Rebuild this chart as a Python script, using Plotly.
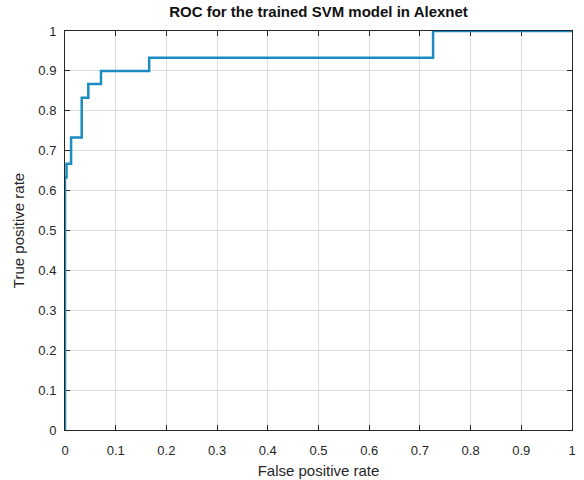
import plotly.graph_objects as go

fpr = [0.0, 0.0, 0.003, 0.003, 0.012, 0.012, 0.033, 0.033, 0.046, 0.046, 0.071, 0.071, 0.166, 0.166, 0.726, 0.726, 1.0]
tpr = [0.0, 0.633, 0.633, 0.667, 0.667, 0.733, 0.733, 0.833, 0.833, 0.867, 0.867, 0.9, 0.9, 0.933, 0.933, 1.0, 1.0]

title = "ROC for the trained SVM model in Alexnet"
xlabel = "False positive rate"
ylabel = "True positive rate"
ticks = [i / 10 for i in range(11)]
ticktext = ["0", "0.1", "0.2", "0.3", "0.4", "0.5", "0.6", "0.7", "0.8", "0.9", "1"]

FONT = "Liberation Sans, Arial"

fig = go.Figure()
fig.add_trace(go.Scatter(x=fpr, y=tpr, mode="lines", cliponaxis=False,
                         line=dict(color="#1a8cbf", width=2.5), showlegend=False))

axis_common = dict(
    range=[0, 1], tickvals=ticks, ticktext=ticktext,
    showgrid=True, gridcolor="#dddddd", gridwidth=1,
    showline=True, linecolor="#262626", linewidth=1, mirror="ticks",
    ticks="inside", ticklen=5, tickcolor="#262626",
    layer="below traces", automargin=False,
    zeroline=False, tickfont=dict(family=FONT, size=13, color="#262626"),
)

fig.update_layout(
    width=584, height=480,
    margin=dict(l=65, r=12, t=31, b=50),
    paper_bgcolor="white", plot_bgcolor="white",
    title=dict(text="<b>" + title + "</b>", x=0.5, xanchor="center", xref="paper",
               y=1, yref="container", yanchor="top", pad=dict(t=6),
               font=dict(family=FONT, size=15, color="#111")),
    xaxis=dict(axis_common, ticklabelstandoff=8,
               title=dict(text=xlabel, standoff=8,
                          font=dict(family=FONT, size=15, color="#262626"))),
    yaxis=dict(axis_common, ticklabelstandoff=5,
               title=dict(text=ylabel, standoff=10,
                          font=dict(family=FONT, size=15, color="#262626"))),
)

fig.write_html("out.html")
